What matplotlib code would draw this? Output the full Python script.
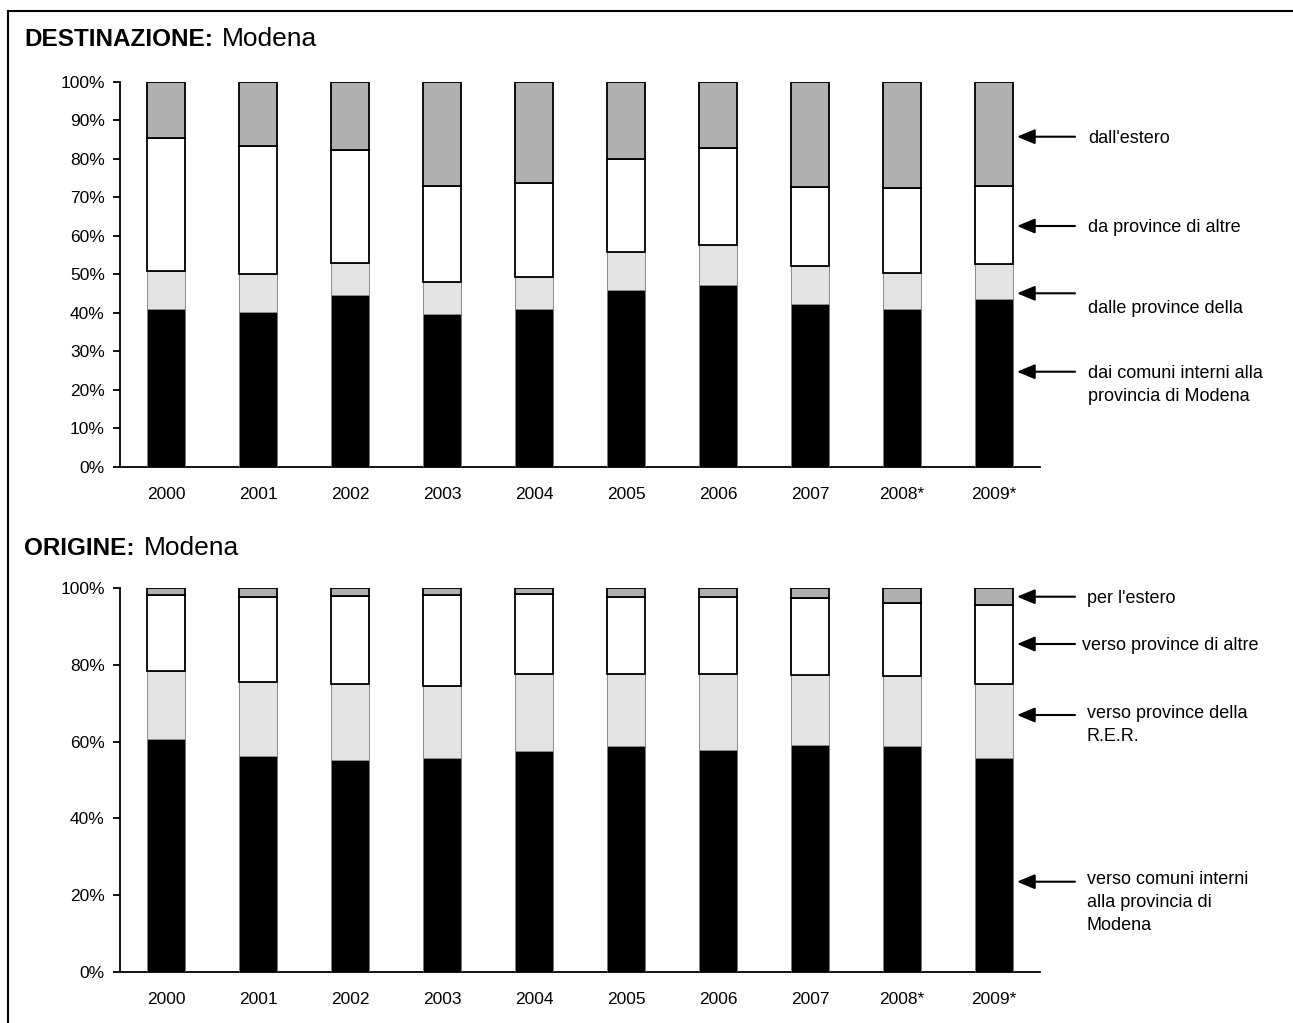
import matplotlib
matplotlib.use("Agg")
import matplotlib.pyplot as plt
from matplotlib.lines import Line2D
from matplotlib.patches import FancyArrowPatch
import numpy as np

plt.rcParams['font.family'] = ['Liberation Sans', 'DejaVu Sans']

years = ["2000", "2001", "2002", "2003", "2004", "2005", "2006", "2007", "2008*", "2009*"]

# DESTINAZIONE: Modena (shares, %)
dest_comuni = [41.0, 40.3, 44.6, 39.6, 41.0, 45.9, 47.1, 42.3, 40.9, 43.6]
dest_rer = [9.8, 9.7, 8.4, 8.3, 8.2, 9.9, 10.5, 9.8, 9.3, 9.0]
dest_altre = [34.7, 33.4, 29.3, 25.0, 24.6, 24.2, 25.1, 20.5, 22.1, 20.4]
dest_estero = [14.5, 16.6, 17.7, 27.1, 26.2, 20.0, 17.3, 27.4, 27.7, 27.0]

# ORIGINE: Modena (shares, %)
orig_comuni = [60.6, 56.3, 55.2, 55.8, 57.6, 58.8, 57.9, 59.1, 58.9, 55.6]
orig_rer = [17.7, 19.3, 19.8, 18.7, 20.0, 18.8, 19.7, 18.3, 18.1, 19.4]
orig_altre = [19.7, 22.0, 22.9, 23.6, 20.8, 20.1, 20.1, 19.8, 18.9, 20.6]
orig_estero = [2.0, 2.4, 2.1, 1.9, 1.6, 2.3, 2.3, 2.8, 4.1, 4.4]

dest_labels = ["dai comuni interni alla\nprovincia di Modena", "dalle province della",
               "da province di altre", "dall'estero"]
orig_labels = ["verso comuni interni\nalla provincia di\nModena", "verso province della\nR.E.R.",
               "verso province di altre", "per l'estero"]

W, H = 1293, 1023
fig = plt.figure(figsize=(W / 100, H / 100), dpi=100)
FS = 12.5
AFS = 13


def fx(x):
    return x / W


def fy(y):
    return 1 - y / H


def draw_panel(ax, series, yticks):
    x = np.arange(len(years))
    bw = 0.416
    styles = [
        dict(facecolor='black', edgecolor='#7a7a7a', linewidth=0.6),
        dict(facecolor='#e3e3e3', edgecolor='#8a8a8a', linewidth=0.7),
        dict(facecolor='white', edgecolor='black', linewidth=1.3),
        dict(facecolor='#b0b0b0', edgecolor='black', linewidth=1.3),
    ]
    bottom = np.zeros(len(years))
    for vals, st in zip(series, styles):
        v = np.array(vals)
        ax.bar(x, v, bw, bottom=bottom, **st, zorder=3)
        bottom = bottom + v
    ax.set_xlim(-0.5, len(years) - 0.5)
    ax.set_ylim(0, 100)
    ax.set_yticks(yticks)
    ax.set_yticklabels([f"{t}%" for t in yticks])
    ax.set_xticks(x)
    ax.set_xticklabels(years)
    for s in ['top', 'right']:
        ax.spines[s].set_visible(False)
    for s in ['left', 'bottom']:
        ax.spines[s].set_linewidth(1.3)
    ax.tick_params(axis='y', length=5, width=1.3, pad=6, labelsize=FS)
    ax.tick_params(axis='x', length=0, pad=14.5, labelsize=FS)


ax1 = fig.add_axes([fx(120), fy(466.7), 920 / W, 385 / H])
draw_panel(ax1, [dest_comuni, dest_rer, dest_altre, dest_estero], list(range(0, 101, 10)))
ax2 = fig.add_axes([fx(120), fy(972.3), 920 / W, 384.6 / H])
draw_panel(ax2, [orig_comuni, orig_rer, orig_altre, orig_estero], list(range(0, 101, 20)))

# Titles
renderer = fig.canvas.get_renderer()
for ttl, ybase in [("DESTINAZIONE:", 46.5), ("ORIGINE:", 555)]:
    t = fig.text(fx(24), fy(ybase), ttl, fontsize=17.5, fontweight='bold', va='baseline', ha='left')
    bb = t.get_window_extent(renderer)
    fig.text(bb.x1 / W + fx(9), fy(ybase), "Modena", fontsize=19, va='baseline', ha='left')

arrow_props = dict(arrowstyle='-|>,head_length=0.6,head_width=0.25', color='black',
                   lw=1.5, mutation_scale=18, shrinkA=0, shrinkB=0)

# annotations: (label, arrow y, text x, text first-line center y)
dest_ann = [(dest_labels[3], 136.7, 1088, 136.7),
            (dest_labels[2], 226, 1088, 226),
            (dest_labels[1], 293.3, 1088, 306.7),
            (dest_labels[0], 371.7, 1088, 371.7)]
orig_ann = [(orig_labels[3], 596.7, 1087, 596.7),
            (orig_labels[2], 644, 1082, 644),
            (orig_labels[1], 715, 1087, 711.7),
            (orig_labels[0], 881.7, 1087, 878)]

for lab, ya, xt, yt in dest_ann + orig_ann:
    fig.add_artist(FancyArrowPatch((fx(1075), fy(ya)), (fx(1017), fy(ya)),
                                   transform=fig.transFigure, **arrow_props))
    fig.text(fx(xt), fy(yt - 7), lab, fontsize=AFS, va='top', ha='left', linespacing=1.45)

# frame lines (top and left)
fig.add_artist(Line2D([fx(8), 1.0], [fy(11), fy(11)], color='black', lw=1.5, transform=fig.transFigure))
fig.add_artist(Line2D([fx(8), fx(8)], [fy(11), 0.0], color='black', lw=1.5, transform=fig.transFigure))

fig.savefig("out.png", dpi=100)
